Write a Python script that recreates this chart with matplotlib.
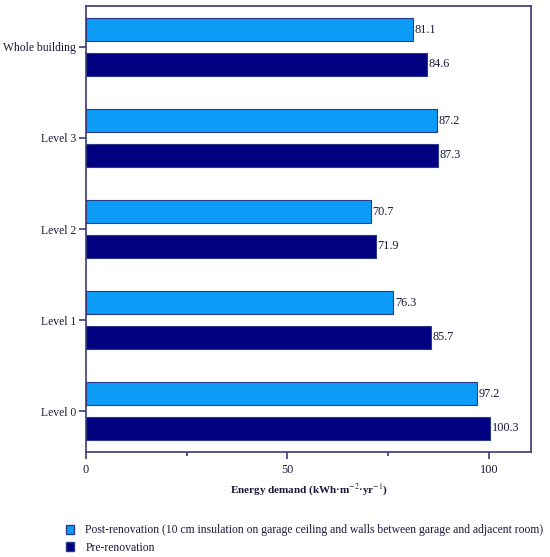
import matplotlib
matplotlib.use("Agg")
import matplotlib.pyplot as plt
import numpy as np
from matplotlib.patches import Patch

categories = ["Whole building", "Level 3", "Level 2", "Level 1", "Level 0"]
post = [81.1, 87.2, 70.7, 76.3, 97.2]
pre = [84.6, 87.3, 71.9, 85.7, 100.3]
post_label = "Post-renovation (10 cm insulation on garage ceiling and walls between garage and adjacent room)"
pre_label = "Pre-renovation"

plt.rcParams['font.family'] = ['Liberation Serif', 'DejaVu Serif']
plt.rcParams['mathtext.fontset'] = 'stix'

light = "#0C9BF7"
dark = "#000080"
edge = "#2A3A8A"
txt = "#1a1a3a"
spine = "#3a3a78"

fig = plt.figure(figsize=(5.5, 5.57), dpi=100)
ax = fig.add_axes([86/550, 1 - 452/557, (531 - 86)/550, (452 - 6)/557])

y = np.arange(len(categories))
h = 0.25
off = 0.19
b1 = ax.barh(y - off, post, height=h, color=light, edgecolor=edge, linewidth=0.8)
b2 = ax.barh(y + off, pre, height=h, color=dark, edgecolor=edge, linewidth=0.8)
for rect, v in zip(b1, post):
    ax.text(v + 0.4, rect.get_y() + rect.get_height()/2, f"{v:.1f}", va="center", ha="left", fontsize=8.8, color=txt)
for rect, v in zip(b2, pre):
    ax.text(v + 0.4, rect.get_y() + rect.get_height()/2, f"{v:.1f}", va="center", ha="left", fontsize=8.8, color=txt)

ax.set_ylim(len(categories) - 0.55, -0.45)
ax.set_xlim(0, 110.5)
ax.set_yticks(y)
ax.set_yticklabels(categories, fontsize=8.4, color=txt)
ax.set_xticks([0, 50, 100])
ax.set_xticks([25, 75], minor=True)
ax.tick_params(axis='x', which='major', length=5, width=1.2, colors=spine, labelcolor=txt, labelsize=8.8)
ax.tick_params(axis='x', which='minor', length=3, width=1.2, colors=spine)
ax.tick_params(axis='y', length=5, width=1.2, colors=spine, labelcolor=txt, pad=2)
for s in ax.spines.values():
    s.set_color(spine)
    s.set_linewidth(1.2)
ax.set_xlabel("Energy demand (kWh·m$^{-2}$·yr$^{-1}$)", fontsize=8, fontweight='bold', color=txt, labelpad=4)

handles = [Patch(facecolor=light, edgecolor=edge, label=post_label),
           Patch(facecolor=dark, edgecolor=edge, label=pre_label)]
fig.legend(handles=handles, loc="upper left", bbox_to_anchor=(55/550, 1 - 514/557),
           frameon=False, fontsize=8.4, handlelength=0.7, handleheight=0.7,
           handletextpad=1.0, labelspacing=0.43, labelcolor=txt)

fig.savefig("out.png", dpi=100)
